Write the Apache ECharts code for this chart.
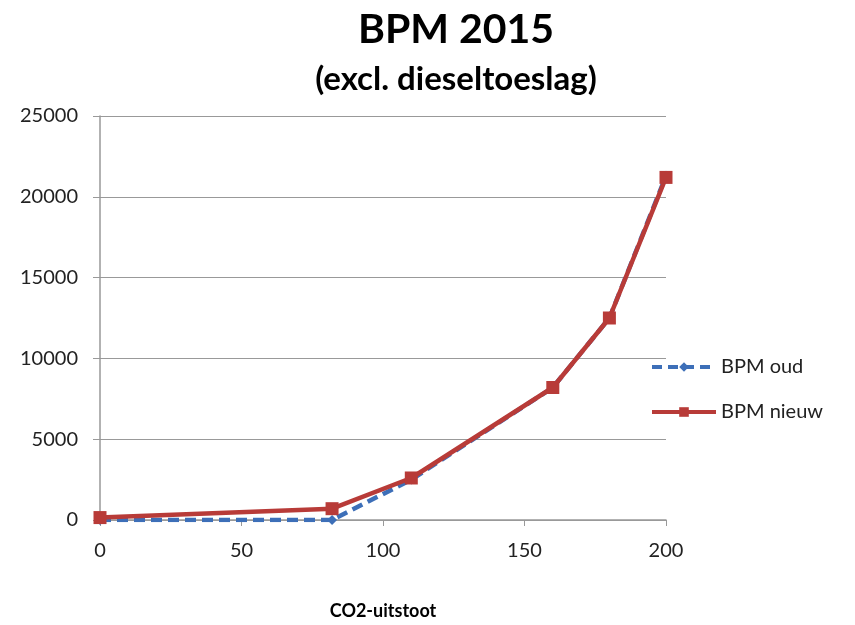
<!DOCTYPE html>
<html><head><meta charset="utf-8">
<script src="https://cdn.jsdelivr.net/npm/echarts@6/dist/echarts.min.js"></script>
<style>html,body{margin:0;padding:0;background:#fff}#c{width:855px;height:625px}</style>
</head><body><div id="c"></div>
<script>
const co2 = [0, 82, 110, 160, 180, 200];
const bpmOud = [0, 0, 2500, 8200, 12500, 21300];
const bpmNieuw = [150, 700, 2600, 8200, 12500, 21200];
const xTicks = [0, 50, 100, 150, 200];
const yTicks = [0, 5000, 10000, 15000, 20000, 25000];

const font = 'Lato, "Open Sans", sans-serif';
const blue = '#3d6fb8', red = '#b83b38';
const chart = echarts.init(document.getElementById('c'), null, {renderer: 'canvas'});
chart.setOption({
  animation: false,
  title: [
    {text: 'BPM 2015', left: 451, top: 4, textAlign: 'center',
     textStyle: {fontFamily: font, fontSize: 41, fontWeight: 'bold', color: '#000'}},
    {text: '(excl. dieseltoeslag)', left: 451, top: 58, textAlign: 'center',
     textStyle: {fontFamily: font, fontSize: 33, fontWeight: 'bold', color: '#000'}}
  ],
  grid: {left: 100, right: 189, top: 116, bottom: 102, containLabel: false},
  legend: {
    orient: 'vertical', left: 645, top: 352, itemGap: 25, itemWidth: 64, itemHeight: 12,
    textStyle: {fontFamily: font, fontSize: 20, color: '#222'},
    data: [
      {name: 'BPM oud', lineStyle: {width: 4, type: [10, 6], color: blue}},
      {name: 'BPM nieuw', lineStyle: {width: 4, color: red}}
    ]
  },
  xAxis: {
    type: 'value', min: xTicks[0], max: xTicks[xTicks.length - 1], interval: 50,
    name: 'CO2-uitstoot', nameLocation: 'middle', nameGap: 82,
    nameTextStyle: {fontFamily: font, fontSize: 18, fontWeight: 'bold', color: '#000'},
    axisLine: {show: true, lineStyle: {color: '#999', width: 1.5}},
    axisTick: {show: true, length: 6, lineStyle: {color: '#999'}},
    axisLabel: {fontFamily: font, fontSize: 20, color: '#222', margin: 21},
    splitLine: {show: false}
  },
  yAxis: {
    type: 'value', min: yTicks[0], max: yTicks[yTicks.length - 1], interval: 5000,
    axisLine: {show: true, lineStyle: {color: '#999', width: 1.5}},
    axisTick: {show: true, inside: false, length: 7, lineStyle: {color: '#999'}},
    axisLabel: {fontFamily: font, fontSize: 20, color: '#222', margin: 22,
                formatter: v => String(v)},
    splitLine: {show: true, lineStyle: {color: '#999', width: 1.2}}
  },
  series: [
    {name: 'BPM oud', type: 'line', data: co2.map((x, i) => [x, bpmOud[i]]),
     symbol: 'diamond', symbolSize: 10, showAllSymbol: true,
     lineStyle: {color: blue, width: 4.5, type: [11, 6]},
     itemStyle: {color: blue}, z: 2},
    {name: 'BPM nieuw', type: 'line', data: co2.map((x, i) => [x, bpmNieuw[i]]),
     symbol: 'rect', symbolSize: 13, showAllSymbol: true,
     lineStyle: {color: red, width: 4.5},
     itemStyle: {color: red}, z: 3}
  ]
});
</script></body></html>
